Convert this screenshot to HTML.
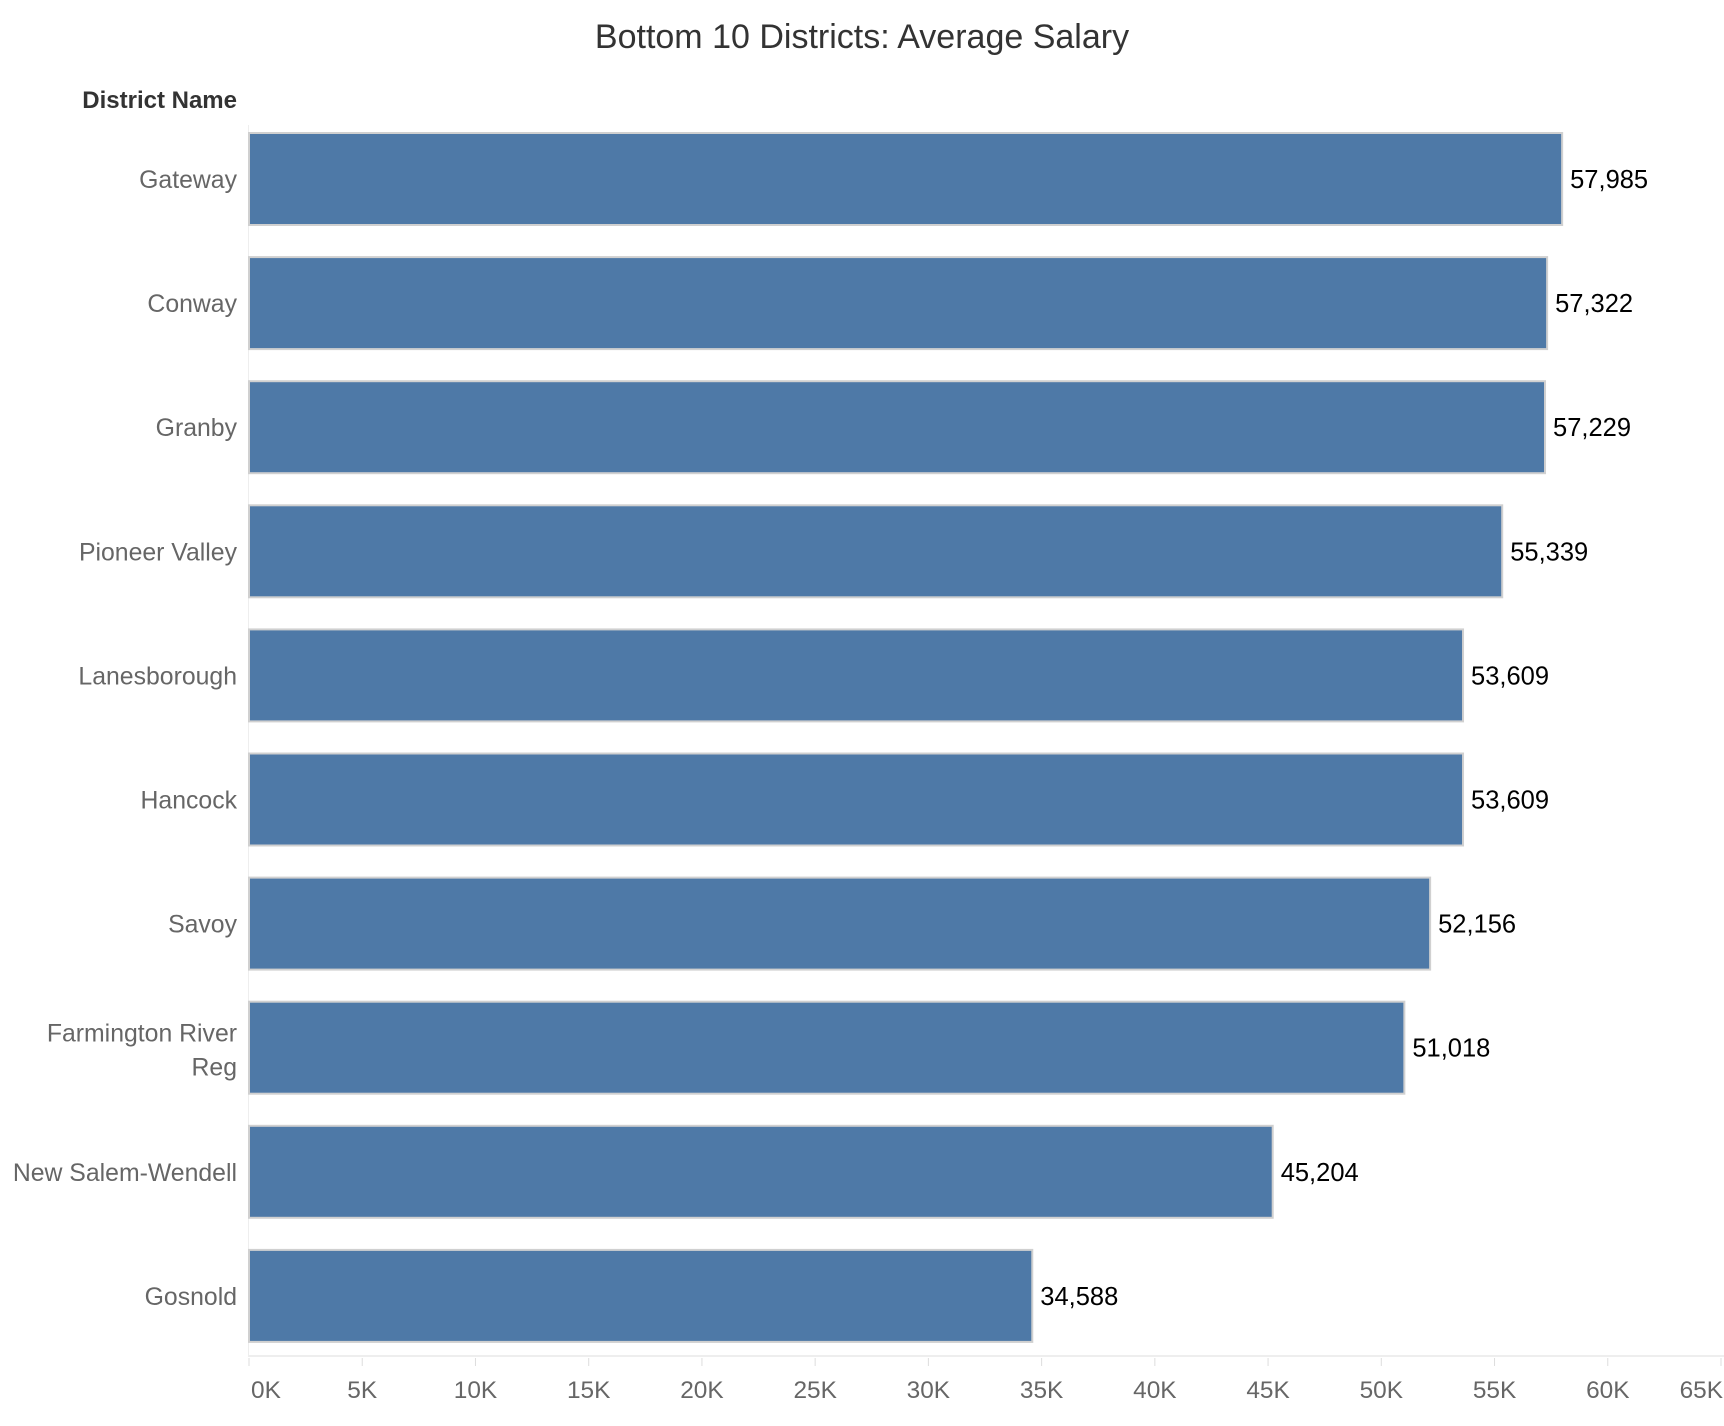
<!DOCTYPE html>
<html><head><meta charset="utf-8"><style>
html,body{margin:0;padding:0;background:#fff;}
svg{display:block;font-family:"Liberation Sans","DejaVu Sans",sans-serif;}
</style></head><body>
<svg id="chart" width="1724" height="1426" viewBox="0 0 1724 1426" xmlns="http://www.w3.org/2000/svg">
<text x="862" y="48" text-anchor="middle" font-size="34" fill="#333">Bottom 10 Districts: Average Salary</text>
<text x="237" y="108" text-anchor="end" font-size="24" font-weight="bold" fill="#333">District Name</text>
<line x1="248.5" y1="125" x2="248.5" y2="1356" stroke="#eee" stroke-width="1"/>
<line x1="248" y1="1356" x2="1724" y2="1356" stroke="#eee" stroke-width="2"/>
<g id="bars"></g>
<g id="xticks"></g>
</svg>
<script>
const categories = ["Gateway","Conway","Granby","Pioneer Valley","Lanesborough","Hancock","Savoy","Farmington River Reg","New Salem-Wendell","Gosnold"];
const values = [57985,57322,57229,55339,53609,53609,52156,51018,45204,34588];
const valueLabels = ["57,985","57,322","57,229","55,339","53,609","53,609","52,156","51,018","45,204","34,588"];
const tickValues = [0,5000,10000,15000,20000,25000,30000,35000,40000,45000,50000,55000,60000,65000];
const tickLabels = ["0K","5K","10K","15K","20K","25K","30K","35K","40K","45K","50K","55K","60K","65K"];

const NS = "http://www.w3.org/2000/svg";
const x0 = 249, xScale = (1721 - 249) / 65000;
function xPos(v){ return x0 + v * xScale; }
const top0 = 132, pitch = 124.1, barH = 94;
function yPos(i){ return top0 + i * pitch; }

const gb = document.getElementById("bars");
categories.forEach((c, i) => {
  const y = yPos(i);
  const r = document.createElementNS(NS, "rect");
  r.setAttribute("x", x0);
  r.setAttribute("y", y + 1);
  r.setAttribute("width", xPos(values[i]) - x0);
  r.setAttribute("height", barH - 2);
  r.setAttribute("fill", "#4e79a7");
  r.setAttribute("stroke", "#d0d0d0");
  r.setAttribute("stroke-width", "2");
  
  
  gb.appendChild(r);

  const vt = document.createElementNS(NS, "text");
  vt.setAttribute("x", xPos(values[i]) + 8);
  vt.setAttribute("y", y + barH / 2 + 9);
  vt.setAttribute("font-size", "25.5");
  vt.setAttribute("fill", "#000");
  vt.textContent = valueLabels[i];
  
  
  gb.appendChild(vt);

  const lt = document.createElementNS(NS, "text");
  lt.setAttribute("x", 237);
  lt.setAttribute("text-anchor", "end");
  lt.setAttribute("font-size", "24.8");
  lt.setAttribute("fill", "#666");
  
  
  if (c === "Farmington River Reg") {
    const a = document.createElementNS(NS, "tspan");
    a.setAttribute("x", 237); a.setAttribute("y", y + barH / 2 - 6);
    a.textContent = "Farmington River";
    const b = document.createElementNS(NS, "tspan");
    b.setAttribute("x", 237); b.setAttribute("y", y + barH / 2 + 28);
    b.textContent = "Reg";
    lt.appendChild(a); lt.appendChild(b);
  } else {
    lt.setAttribute("y", y + barH / 2 + 9);
    lt.textContent = c;
  }
  gb.appendChild(lt);
});

const gt = document.getElementById("xticks");
tickValues.forEach((v, i) => {
  const x = xPos(v);
  const l = document.createElementNS(NS, "line");
  l.setAttribute("x1", x); l.setAttribute("x2", x);
  l.setAttribute("y1", 1358); l.setAttribute("y2", 1366);
  l.setAttribute("stroke", "#ddd");
  
  
  gt.appendChild(l);
  const t = document.createElementNS(NS, "text");
  t.setAttribute("x", i === 0 ? x + 2 : (i === tickValues.length - 1 ? 1723 : x));
  t.setAttribute("y", 1398);
  t.setAttribute("text-anchor", i === 0 ? "start" : (i === tickValues.length - 1 ? "end" : "middle"));
  t.setAttribute("font-size", "24.4");
  t.setAttribute("fill", "#666");
  t.textContent = tickLabels[i];
  
  
  gt.appendChild(t);
});
</script>
</body></html>
